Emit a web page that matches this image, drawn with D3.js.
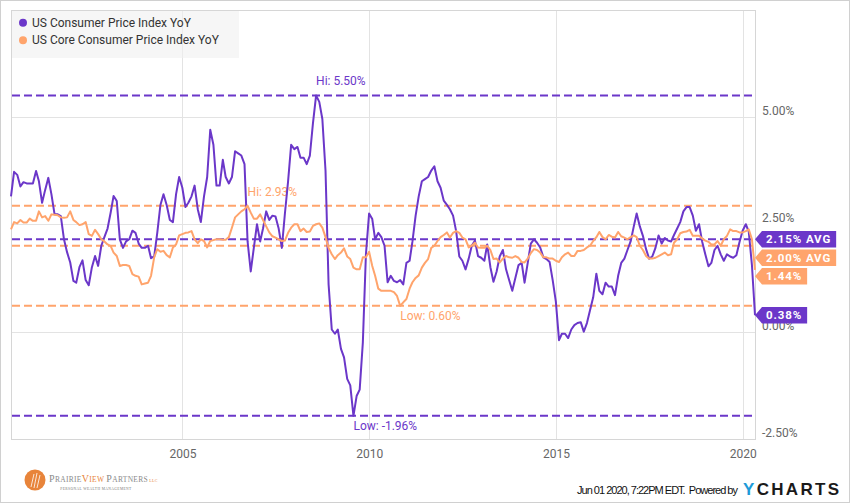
<!DOCTYPE html>
<html>
<head>
<meta charset="utf-8">
<script src="https://cdn.jsdelivr.net/npm/d3@7"></script>
<style>
  html, body { margin: 0; padding: 0; background: #fff; }
  svg { display: block; font-family: Roboto, "Open Sans", sans-serif; }
</style>
</head>
<body>
<div id="chart"></div>
<script>
// monthly YoY values, May 2000 .. Apr 2020 (month end)
var firstMonth = new Date(2000, 4, 1);

var cpiYoY = [
  3.15, 3.72, 3.65, 3.38, 3.48, 3.45, 3.45, 3.45,
  3.74, 3.50, 3.00, 3.30, 3.58, 3.20, 2.73, 2.73, 2.69, 2.15, 1.85, 1.61,
  1.18, 1.14, 1.50, 1.66, 1.20, 1.08, 1.50, 1.76, 1.53, 2.00, 2.20, 2.40,
  2.78, 3.16, 3.04, 2.15, 1.95, 2.10, 2.15, 2.35, 2.30, 2.05, 1.95, 1.95,
  2.00, 1.71, 1.75, 2.30, 2.95, 3.20, 2.95, 2.60, 2.55, 3.20, 3.60, 3.35,
  2.90, 3.00, 3.15, 3.40, 2.85, 2.55, 3.15, 3.60, 4.70, 4.35, 3.40, 3.40,
  4.00, 3.60, 3.45, 3.60, 4.20, 4.15, 4.10, 3.90, 2.10, 1.40, 1.95, 2.50,
  2.10, 2.40, 2.80, 2.60, 2.70, 2.68, 2.40, 1.95, 2.75, 3.50, 4.35, 4.25,
  4.30, 4.05, 4.05, 3.90, 4.10, 4.85, 5.50, 5.35, 4.95, 3.75, 1.10, 0.05,
  -0.05, 0.05, -0.40, -0.60, -1.10, -1.25, -1.96, -1.50, -1.35, -0.25, 1.80, 2.75,
  2.62, 2.15, 2.30, 2.20, 2.00, 1.15, 1.30, 1.18, 1.15, 1.20, 1.10, 1.60,
  1.65, 2.10, 2.70, 3.15, 3.50, 3.55, 3.60, 3.75, 3.85, 3.50, 3.35, 3.05,
  2.95, 2.85, 2.70, 2.34, 1.75, 1.65, 1.45, 1.70, 2.00, 2.12, 1.76, 1.72,
  1.65, 2.03, 1.50, 1.16, 1.40, 1.75, 1.90, 1.45, 1.20, 0.95, 1.25, 1.55,
  1.60, 1.14, 1.60, 2.05, 2.15, 2.07, 1.96, 1.73, 1.69, 1.62, 1.20, 0.70,
  -0.20, -0.05, -0.05, -0.15, 0.05, 0.15, 0.20, 0.22, 0.00, 0.20, 0.50, 0.80,
  1.35, 0.95, 0.87, 1.14, 1.05, 1.05, 0.85, 1.30, 1.60, 1.70, 1.90, 2.10,
  2.45, 2.75, 2.45, 2.23, 1.92, 1.70, 1.75, 1.95, 2.24, 2.05, 2.18, 2.12,
  2.10, 2.25, 2.40, 2.55, 2.80, 2.90, 2.90, 2.70, 2.35, 2.50, 2.10, 1.80,
  1.52, 1.60, 1.90, 2.00, 1.80, 1.65, 1.80, 1.75, 1.72, 1.78, 2.08, 2.35,
  2.50, 2.33, 1.55, 0.38
];

var coreYoY = [
  2.38, 2.55, 2.52, 2.60, 2.54, 2.54, 2.63, 2.58,
  2.58, 2.80, 2.66, 2.69, 2.58, 2.73, 2.72, 2.71, 2.66, 2.65, 2.66, 2.80,
  2.60, 2.55, 2.48, 2.50, 2.55, 2.27, 2.23, 2.37, 2.27, 2.15, 2.10, 2.03,
  1.99, 1.84, 1.76, 1.53, 1.55, 1.55, 1.53, 1.34, 1.30, 1.28, 1.10, 1.12,
  1.14, 1.30, 1.73, 1.92, 1.86, 1.88, 1.78, 1.73, 1.96, 2.03, 2.24, 2.27,
  2.30, 2.31, 2.34, 2.15, 2.06, 2.15, 2.11, 1.96, 2.11, 2.13, 2.15, 2.15,
  2.14, 2.14, 2.20, 2.42, 2.66, 2.73, 2.80, 2.85, 2.93, 2.77, 2.63, 2.63,
  2.73, 2.60, 2.45, 2.31, 2.22, 2.19, 2.15, 2.11, 2.12, 2.30, 2.42, 2.50,
  2.50, 2.34, 2.40, 2.32, 2.33, 2.46, 2.50, 2.52, 2.42, 2.20, 1.95, 1.80,
  1.69, 1.78, 1.84, 1.94, 1.75, 1.69, 1.49, 1.45, 1.45, 1.73, 1.73, 1.86,
  1.53, 1.30, 1.00, 0.95, 0.95, 0.95, 0.95, 0.92, 0.83, 0.60, 0.68, 0.76,
  1.00, 1.15, 1.25, 1.31, 1.49, 1.60, 1.69, 1.95, 2.00, 2.11, 2.20, 2.25,
  2.31, 2.19, 2.30, 2.34, 2.30, 2.19, 2.15, 1.96, 2.00, 2.07, 1.96, 1.95,
  1.95, 2.00, 1.90, 1.69, 1.70, 1.61, 1.70, 1.76, 1.73, 1.72, 1.76, 1.72,
  1.62, 1.61, 1.70, 1.83, 1.92, 1.90, 1.84, 1.73, 1.73, 1.70, 1.70, 1.65,
  1.62, 1.73, 1.80, 1.84, 1.76, 1.76, 1.88, 1.88, 1.90, 1.96, 2.00, 2.11,
  2.20, 2.32, 2.20, 2.15, 2.25, 2.21, 2.19, 2.32, 2.22, 2.19, 2.15, 2.20,
  2.24, 2.20, 2.00, 1.90, 1.76, 1.70, 1.70, 1.72, 1.76, 1.80, 1.84, 1.78,
  1.80, 2.07, 2.15, 2.29, 2.32, 2.33, 2.37, 2.23, 2.23, 2.23, 2.17, 2.12,
  2.09, 2.03, 2.03, 2.11, 2.00, 2.15, 2.23, 2.38, 2.34, 2.34, 2.31, 2.31,
  2.34, 2.38, 2.15, 1.44
];

var seriesNames = ["US Consumer Price Index YoY", "US Core Consumer Price Index YoY"];
var seriesAvg = [2.15, 2.00];
var yTicks = [-2.5, 0, 2.5, 5];
var xTickYears = [2005, 2010, 2015, 2020];
var footerText = "Jun 01 2020, 7:22PM EDT.  Powered by";

var width = 850;
var height = 503;
var plot = {left: 11, top: 10, right: 755, bottom: 439};
var colors = ["#6b37c9", "#ffa46c"];

var dates = cpiYoY.map(function(d, i) {
  return d3.timeDay.offset(d3.timeMonth.offset(firstMonth, i + 1), -1);
});

var series = [cpiYoY, coreYoY].map(function(vals, s) {
  return vals.map(function(v, i) { return {date: dates[i], value: v}; });
});

var svg = d3.select("#chart")
  .append("svg")
    .attr("width", width)
    .attr("height", height);

svg.append("rect")
  .attr("x", 0.5).attr("y", 0.5)
  .attr("width", width - 1).attr("height", height - 1)
  .attr("fill", "#fff").attr("stroke", "#d0d0d0");

var x = d3.scaleTime()
  .domain([dates[0], dates[dates.length - 1]])
  .range([plot.left, plot.right]);

var y = d3.scaleLinear()
  .domain([-2.5, 7.5])
  .range([plot.bottom, plot.top - 0.5]);

// grid
svg.append("g").selectAll("line").data(yTicks).enter().append("line")
  .attr("x1", plot.left).attr("x2", plot.right)
  .attr("y1", d => Math.round(y(d)) + 0.5).attr("y2", d => Math.round(y(d)) + 0.5)
  .attr("stroke", "#e3e3e3");

svg.append("g").selectAll("line").data(xTickYears).enter().append("line")
  .attr("x1", d => Math.round(x(new Date(d, 0, 1))) + 0.5)
  .attr("x2", d => Math.round(x(new Date(d, 0, 1))) + 0.5)
  .attr("y1", plot.top).attr("y2", plot.bottom)
  .attr("stroke", "#e3e3e3");

// frame
svg.append("rect")
  .attr("x", plot.left + 0.5).attr("y", plot.top + 0.5)
  .attr("width", plot.right - plot.left).attr("height", plot.bottom - plot.top)
  .attr("fill", "none").attr("stroke", "#d6d6d6");

// legend
var legend = svg.append("g");
legend.append("rect")
  .attr("x", plot.left + 1).attr("y", plot.top + 1)
  .attr("width", 227).attr("height", 47)
  .attr("fill", "#f0f0f0").attr("fill-opacity", 0.6);
seriesNames.forEach(function(name, i) {
  var cy = 22.7 + i * 17.5;
  legend.append("circle").attr("cx", 23).attr("cy", cy).attr("r", 4).attr("fill", colors[i]);
  legend.append("text").attr("x", 32).attr("y", cy).attr("dy", "0.35em")
    .attr("font-size", 12).attr("fill", "#333").text(name);
});

// axes
var yAxis = d3.axisRight(y)
  .tickValues(yTicks)
  .tickSize(0)
  .tickPadding(7)
  .tickFormat(d => d.toFixed(2) + "%");

var gy = svg.append("g")
  .attr("transform", `translate(${plot.right},0)`)
  .call(yAxis);
gy.select(".domain").remove();
gy.selectAll("text")
  .attr("dy", "-0.2em")
  .attr("font-family", "Roboto, sans-serif")
  .attr("font-size", 12)
  .attr("fill", "#666");

var xAxis = d3.axisBottom(x)
  .tickValues(xTickYears.map(d => new Date(d, 0, 1)))
  .tickSize(0)
  .tickPadding(10)
  .tickFormat(d3.timeFormat("%Y"));

var gx = svg.append("g")
  .attr("transform", `translate(0,${plot.bottom})`)
  .call(xAxis);
gx.select(".domain").remove();
gx.selectAll("text")
  .attr("font-family", "Roboto, sans-serif")
  .attr("font-size", 12)
  .attr("fill", "#666");

// hi / low / avg reference lines
var refs = [];
series.forEach(function(data, i) {
  var hi = d3.greatest(data, d => d.value);
  var lo = d3.least(data, d => d.value);
  refs.push({v: hi.value, color: colors[i], date: hi.date, label: "Hi: " + hi.value.toFixed(2) + "%", dy: -10});
  refs.push({v: lo.value, color: colors[i], date: lo.date, label: "Low: " + lo.value.toFixed(2) + "%", dy: 14.5});
  refs.push({v: seriesAvg[i], color: colors[i]});
});

svg.append("g").selectAll("line").data(refs).enter().append("line")
  .attr("x1", plot.left + 1).attr("x2", plot.right)
  .attr("y1", d => y(d.v)).attr("y2", d => y(d.v))
  .attr("stroke", d => d.color)
  .attr("stroke-width", 2)
  .attr("stroke-dasharray", "8,4");

svg.append("g").selectAll("text").data(refs.filter(d => d.label)).enter().append("text")
  .attr("x", d => x(d.date))
  .attr("y", d => y(d.v) + d.dy)
  .attr("font-size", 12)
  .attr("fill", d => d.color)
  .text(d => d.label);

// series lines
var line = d3.line()
  .x(d => x(d.date))
  .y(d => y(d.value));

svg.append("g").selectAll("path").data(series).enter().append("path")
  .attr("d", line)
  .attr("fill", "none")
  .attr("stroke", (d, i) => colors[i])
  .attr("stroke-width", 2)
  .attr("stroke-linejoin", "round");

// right side value flags
var flags = [
  {v: seriesAvg[0], text: seriesAvg[0].toFixed(2) + "% AVG", color: colors[0]},
  {v: seriesAvg[1], text: seriesAvg[1].toFixed(2) + "% AVG", color: colors[1]},
  {v: coreYoY[coreYoY.length - 1], text: coreYoY[coreYoY.length - 1].toFixed(2) + "%", color: colors[1]},
  {v: cpiYoY[cpiYoY.length - 1], text: cpiYoY[cpiYoY.length - 1].toFixed(2) + "%", color: colors[0]}
];
flags.sort((a, b) => y(a.v) - y(b.v));
var prev = -Infinity;
flags.forEach(function(f) {
  f.cy = Math.max(y(f.v), prev + 18.5);
  prev = f.cy;
});

var flag = svg.append("g").selectAll("g").data(flags).enter().append("g");
flag.each(function(f) {
  var g = d3.select(this);
  var path = g.append("path").attr("fill", f.color);
  var t = g.append("text")
    .attr("x", plot.right + 11)
    .attr("y", f.cy)
    .attr("dy", "0.36em")
    .attr("font-size", 11.5)
    .attr("font-weight", "bold")
    .attr("letter-spacing", "0.9px")
    .attr("fill", "#fff")
    .text(f.text);
  var w = t.node().getComputedTextLength();
  var r = plot.right + 11 + w + 5;
  var h = 8.3;
  path.attr("d", `M${plot.right},${f.cy} L${plot.right + 7},${f.cy - h} L${r},${f.cy - h} L${r},${f.cy + h} L${plot.right + 7},${f.cy + h} Z`);
});

// footer
svg.append("text")
  .attr("x", 577).attr("y", 493.5)
  .attr("font-family", "'Liberation Sans Narrow', 'Arial Narrow', sans-serif")
  .attr("font-size", 11)
  .attr("fill", "#111")
  .attr("textLength", 161)
  .attr("xml:space", "preserve")
  .text(footerText);

var yc = svg.append("text")
  .attr("x", 743).attr("y", 495)
  .attr("font-family", "'Liberation Sans', Arial, sans-serif")
  .attr("font-size", 17)
  .attr("font-weight", "bold")
  .attr("textLength", 96);
yc.append("tspan").attr("fill", "#1d9ad8").text("Y");
yc.append("tspan").attr("fill", "#1a1a1a").text("CHARTS");

// PrairieView Partners logo
var logo = svg.append("g");
logo.append("circle").attr("cx", 35).attr("cy", 480).attr("r", 10.5).attr("fill", "#e8843a");
[[-4, 7, -1, -6], [-1, 8, 2, -7], [2, 8, 5, -5]].forEach(function(s) {
  logo.append("line")
    .attr("x1", 35 + s[0]).attr("y1", 480 + s[1])
    .attr("x2", 35 + s[2]).attr("y2", 480 + s[3])
    .attr("stroke", "#fff").attr("stroke-width", 1).attr("stroke-opacity", 0.8);
});
var brand = logo.append("text")
  .attr("x", 49).attr("y", 482)
  .attr("font-family", "'Liberation Serif', 'DejaVu Serif', serif")
  .attr("font-size", 7.5)
  .attr("letter-spacing", "0.3px");
brand.append("tspan").attr("fill", "#8a8a8a").attr("font-size", 10).text("P");
brand.append("tspan").attr("fill", "#8a8a8a").text("RAIRIE");
brand.append("tspan").attr("fill", "#e8843a").attr("font-size", 10).text("V");
brand.append("tspan").attr("fill", "#e8843a").text("IEW ");
brand.append("tspan").attr("fill", "#8a8a8a").attr("font-size", 10).text("P");
brand.append("tspan").attr("fill", "#8a8a8a").text("ARTNERS");
brand.append("tspan").attr("fill", "#e8843a").attr("font-size", 4).text(" LLC");
logo.append("text")
  .attr("x", 96).attr("y", 489.5)
  .attr("text-anchor", "middle")
  .attr("font-family", "'Liberation Serif', serif")
  .attr("font-size", 3.6)
  .attr("letter-spacing", "0.4px")
  .attr("fill", "#777")
  .text("PERSONAL WEALTH MANAGEMENT");
</script>
</body>
</html>
